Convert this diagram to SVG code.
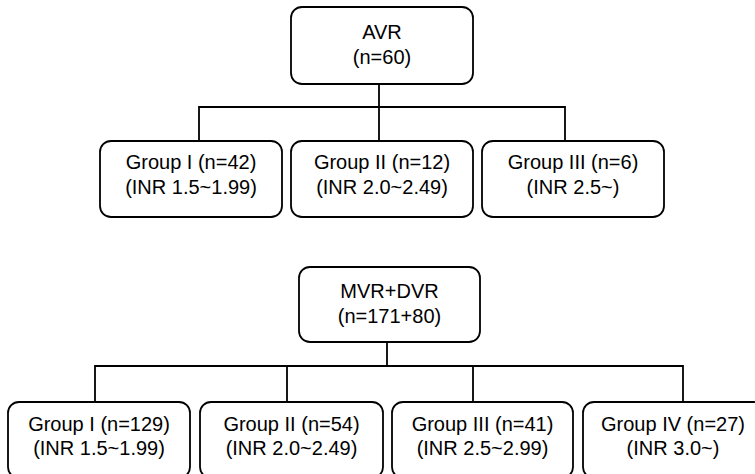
<svg xmlns="http://www.w3.org/2000/svg" width="755" height="474" viewBox="0 0 755 474">
<style>
.box{fill:#fff;stroke:#000;stroke-width:1.8}
.ln{fill:none;stroke:#000;stroke-width:1.8}
text{font-family:"Liberation Sans",Arial,sans-serif;font-size:20px;fill:#000;text-anchor:middle}
</style>
<rect width="755" height="474" fill="#fff"/>
<g id="connectors">
<path class="ln" d="M379,84V107M199,141V107H565V141M379,107V141"/>
<path class="ln" d="M387,342V366M95,402V366H683V402M287,366V402M473,366V402"/>
</g>
<g id="avr"><rect class="box" x="291" y="7" width="182" height="77" rx="11"/><text x="382" y="39">AVR</text><text x="382" y="64">(n=60)</text></g>
<g id="a1"><rect class="box" x="100" y="141" width="182" height="76" rx="11"/><text x="191" y="169">Group I (n=42)</text><text x="191" y="194">(INR 1.5~1.99)</text></g>
<g id="a2"><rect class="box" x="291" y="141" width="182" height="76" rx="11"/><text x="382" y="169">Group II (n=12)</text><text x="382" y="194">(INR 2.0~2.49)</text></g>
<g id="a3"><rect class="box" x="482" y="141" width="182" height="76" rx="11"/><text x="573" y="169">Group III (n=6)</text><text x="573" y="194">(INR 2.5~)</text></g>
<g id="mvr"><rect class="box" x="299" y="267" width="181" height="75" rx="11"/><text x="389.5" y="298">MVR+DVR</text><text x="389.5" y="323">(n=171+80)</text></g>
<g id="m1"><rect class="box" x="8" y="402" width="182" height="76" rx="11"/><text x="99" y="431">Group I (n=129)</text><text x="99" y="455">(INR 1.5~1.99)</text></g>
<g id="m2"><rect class="box" x="200" y="402" width="183" height="76" rx="11"/><text x="291.5" y="431">Group II (n=54)</text><text x="291.5" y="455">(INR 2.0~2.49)</text></g>
<g id="m3"><rect class="box" x="392" y="402" width="181" height="76" rx="11"/><text x="482.5" y="431">Group III (n=41)</text><text x="482.5" y="455">(INR 2.5~2.99)</text></g>
<g id="m4"><rect class="box" x="583" y="402" width="182" height="76" rx="11"/><text x="673" y="431">Group IV (n=27)</text><text x="673" y="455">(INR 3.0~)</text></g>
</svg>
